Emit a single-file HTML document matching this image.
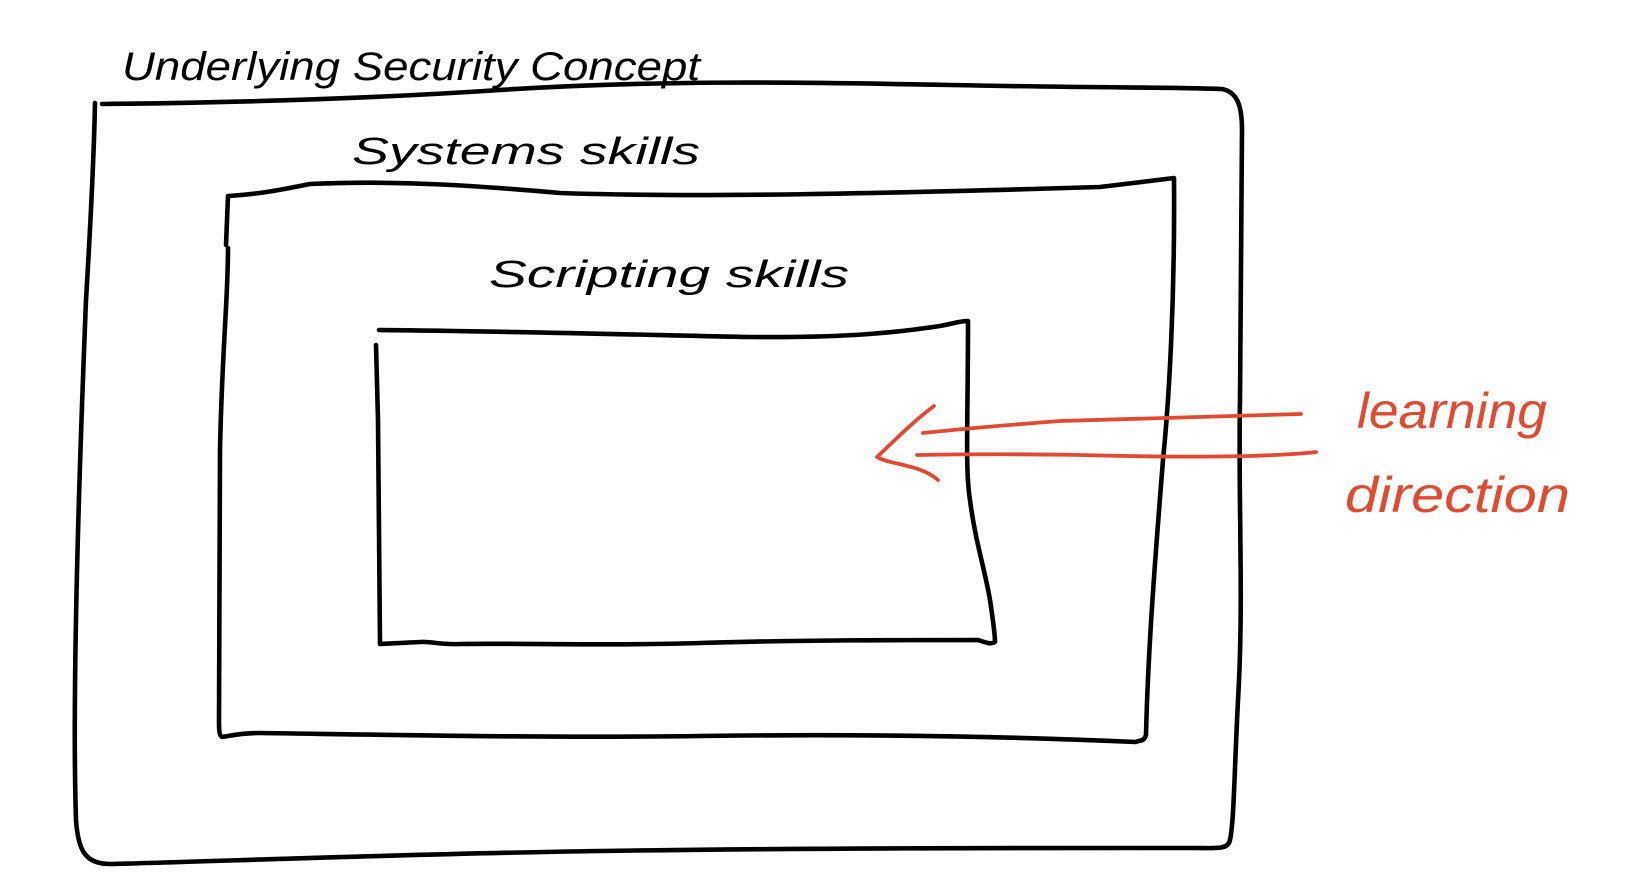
<!DOCTYPE html>
<html><head><meta charset="utf-8"><style>
html,body{margin:0;padding:0;background:#fff;}
svg{display:block;}
text{font-family:"Liberation Sans",sans-serif;font-style:italic;}
</style></head><body>
<svg width="1627" height="887" viewBox="0 0 1627 887" xmlns="http://www.w3.org/2000/svg">
<g fill="none" stroke="#000" stroke-width="4.6" stroke-linecap="round" stroke-linejoin="round">
<!-- outer box -->
<path d="M102 104 C 200 103, 350 100, 500 90 C 650 80, 800 82, 950 85 C 1100 88, 1175 87, 1222 89 C 1237 92, 1242 105, 1242 130 L 1240 400 C 1238 500, 1244 600, 1238 700 C 1234 780, 1234 820, 1230 840 C 1228 850, 1217 848, 1192 848 C 1000 848, 800 848, 600 851 C 400 854, 200 862, 110 864 C 85 864, 78 850, 76 820 C 72 700, 78 500, 86 300 C 92 200, 94 150, 95 103"/>
<!-- middle box -->
<path d="M229 196 C 260 194, 280 190, 310 184 C 400 180, 480 186, 560 193 C 700 198, 900 193, 1100 187 L 1174 178 C 1175 300, 1169 400, 1163 460 C 1155 560, 1148 650, 1146 735 C 1144 742, 1139 740, 1136 742 C 1000 736, 850 734, 700 736 C 550 738, 400 735, 260 733 C 240 733, 230 736, 222 737 C 219 735, 219 730, 219 720 L 220 450 C 222 350, 228 300, 228 248"/>
<path d="M228 196 L 226 245"/>
<!-- inner box -->
<path d="M379 330 C 500 331, 650 335, 750 337 C 850 338, 900 332, 940 326 C 955 323, 960 321, 968 321 C 968 420, 965 470, 970 500 C 975 540, 985 570, 990 600 C 993 620, 995 635, 995 642 C 990 645, 985 642, 978 640 C 900 640, 800 640, 700 643 C 600 646, 530 643, 460 644 C 440 645, 430 641, 420 642 L 380 644 L 378 420 L 376 345"/>
</g>
<!-- red arrow -->
<g fill="none" stroke="#e04a33" stroke-width="3.8" stroke-linecap="round" stroke-linejoin="round">
<path d="M923 433 C 980 427, 1020 424, 1060 421 C 1150 419, 1230 416, 1301 414"/>
<path d="M917 455 C 980 454, 1030 454, 1080 455 C 1150 457, 1200 457, 1250 456 C 1280 455, 1300 454, 1316 452"/>
<path d="M934 406 C 915 420, 895 440, 877 457 C 890 465, 920 464, 938 480"/>
</g>
<g fill="#000">
<text x="122" y="80" font-size="40" textLength="578" lengthAdjust="spacingAndGlyphs">Underlying Security  Concept</text>
<text x="352" y="164" font-size="38" textLength="348" lengthAdjust="spacingAndGlyphs">Systems  skills</text>
<text x="489" y="287" font-size="38" textLength="360" lengthAdjust="spacingAndGlyphs">Scripting  skills</text>
</g>
<g fill="#e04a33">
<text x="1357" y="428" font-size="50" textLength="190" lengthAdjust="spacingAndGlyphs">learning</text>
<text x="1345" y="512" font-size="50" textLength="225" lengthAdjust="spacingAndGlyphs">direction</text>
</g>
</svg>
</body></html>
